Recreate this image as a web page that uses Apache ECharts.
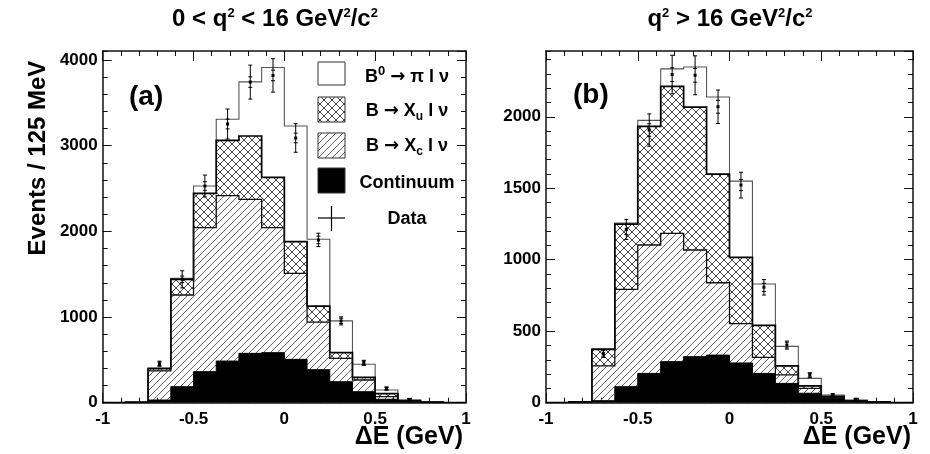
<!DOCTYPE html>
<html><head><meta charset="utf-8">
<script src="https://cdn.jsdelivr.net/npm/echarts@6/dist/echarts.min.js"></script>
<style>html,body{margin:0;padding:0;background:#fff}#c{width:930px;height:454px}</style>
</head><body><div id="c"></div>
<script>
// ---- data ----
const edges = [-1,-0.875,-0.75,-0.625,-0.5,-0.375,-0.25,-0.125,0,0.125,0.25,0.375,0.5,0.625,0.75,0.875,1];
const xTickLabels = [-1,-0.5,0,0.5,1];
const yTickLabelsA = [0,1000,2000,3000,4000];
const yTickLabelsB = [0,500,1000,1500,2000];

// panel (a): 0 < q2 < 16
const contA = [0,5,31,187,362,486,576,584,506,385,245,128,40,12,3,0];
const xcA   = [0,0,341,1070,1681,1930,1798,1459,1004,555,273,137,32,6,2,0];
const xuA   = [0,0,26,183,401,646,739,587,369,188,66,31,33,6,1,0];
const piA   = [0,1,7,11,85,246,632,1283,1351,779,371,152,43,8,2,0];
const dataA = [null,null,455,1440,2529,3253,3742,3820,3090,1900,955,465,165,38,null,null];
const errTotA  = [0,0,30,100,128,175,198,195,167,78,47,30,20,12,0,0];
const errStatA = [0,0,21,38,50,57,61,62,56,44,31,22,13,6,0,0];

// panel (b): q2 > 16
const contB = [0,5,14,112,205,287,322,333,278,205,135,66,31,10,4,0];
const xcB   = [0,0,243,681,898,897,746,506,275,112,59,34,7,2,1,0];
const xuB   = [0,1,115,456,830,1028,1000,760,463,224,63,17,7,2,1,0];
const piB   = [0,1,6,8,42,123,280,539,534,289,137,53,9,2,1,0];
const dataB = [null,null,345,1212,1907,2295,2290,2070,1522,807,403,193,54,24,null,null];
const errTotB  = [0,0,28,70,113,135,136,117,90,54,28,16,10,6,0,0];
const errStatB = [0,0,19,35,44,48,48,45,39,28,20,14,7,5,0,0];

// ---- styles ----
const FONT = '"Liberation Sans", Arial, Helvetica, sans-serif';
function hatchCanvas(size, both, color, lw) {
  const c = document.createElement('canvas'); c.width = size; c.height = size;
  const g = c.getContext('2d'); g.strokeStyle = color; g.lineWidth = lw;
  g.beginPath();
  for (const o of [-size, 0, size]) {
    g.moveTo(o, size); g.lineTo(o + size, 0);
    if (both) { g.moveTo(o, 0); g.lineTo(o + size, size); }
  }
  g.stroke();
  return c;
}
const hatchFill = {image: hatchCanvas(7, false, '#666', 1), repeat: 'repeat'};
const crossFill = {image: hatchCanvas(8, true, '#444', 1), repeat: 'repeat'};
const fills = ['#000', hatchFill, crossFill, '#fff'];
const strokes = [{c:'#000', w:1}, {c:'#111', w:1.3}, {c:'#000', w:1.7}, {c:'#555', w:1.1}];

function stackTops(layers) {
  const out = []; let run = layers[0].map(() => 0);
  for (const l of layers) { run = run.map((v, i) => v + l[i]); out.push(run); }
  return out;
}
function stackSeries(xi, yi, layers) {
  const tops = stackTops(layers);
  return {
    type: 'custom', xAxisIndex: xi, yAxisIndex: yi, z: 2, silent: true, clip: true,
    data: [[0, 0]],
    renderItem(params, api) {
      const ch = [];
      for (let k = 0; k < tops.length; k++) {
        const U = tops[k], L = k ? tops[k - 1] : U.map(() => 0);
        const pts = [];
        for (let i = 0; i < U.length; i++) { pts.push(api.coord([edges[i], U[i]])); pts.push(api.coord([edges[i + 1], U[i]])); }
        for (let i = U.length - 1; i >= 0; i--) { pts.push(api.coord([edges[i + 1], L[i]])); pts.push(api.coord([edges[i], L[i]])); }
        ch.push({type: 'polygon', shape: {points: pts}, style: {fill: fills[k], stroke: null}});
      }
      for (let k = tops.length - 1; k >= 0; k--) {
        const U = tops[k];
        const pts = [api.coord([edges[0], 0])];
        for (let i = 0; i < U.length; i++) { pts.push(api.coord([edges[i], U[i]])); pts.push(api.coord([edges[i + 1], U[i]])); }
        pts.push(api.coord([edges[edges.length - 1], 0]));
        ch.push({type: 'polyline', shape: {points: pts}, style: {stroke: strokes[k].c, lineWidth: strokes[k].w, fill: 'none'}});
      }
      return {type: 'group', children: ch};
    }
  };
}
function dataSeries(xi, yi, vals, eTot, eStat) {
  const data = [];
  vals.forEach((v, i) => { if (v != null) data.push([(edges[i] + edges[i + 1]) / 2, v, eTot[i], eStat[i]]); });
  return {
    type: 'custom', xAxisIndex: xi, yAxisIndex: yi, z: 5, silent: true, clip: true, data,
    renderItem(params, api) {
      const x = api.value(0), y = api.value(1), eo = api.value(2), ei = api.value(3);
      const c = api.coord([x, y]);
      const t = api.coord([x, y + eo])[1], b = api.coord([x, Math.max(0, y - eo)])[1];
      const ti = api.coord([x, y + ei])[1], bi = api.coord([x, Math.max(0, y - ei)])[1];
      const st = {stroke: '#000', lineWidth: 1};
      const h = 2;
      const ch = [
        {type: 'line', shape: {x1: c[0], y1: t, x2: c[0], y2: b}, style: st},
        {type: 'line', shape: {x1: c[0] - h, y1: t, x2: c[0] + h, y2: t}, style: st},
        {type: 'line', shape: {x1: c[0] - h, y1: b, x2: c[0] + h, y2: b}, style: st},
        {type: 'line', shape: {x1: c[0] - h, y1: ti, x2: c[0] + h, y2: ti}, style: st},
        {type: 'line', shape: {x1: c[0] - h, y1: bi, x2: c[0] + h, y2: bi}, style: st},
        {type: 'rect', shape: {x: c[0] - 1.5, y: c[1] - 1.5, width: 3, height: 3}, style: {fill: '#000'}}
      ];
      return {type: 'group', children: ch};
    }
  };
}

const labelStyle = {color: '#000', fontSize: 17, fontWeight: 'bold', fontFamily: FONT};
const frameLine = {show: true, onZero: false, lineStyle: {color: '#111', width: 1.5}};
const noLine = {show: false, onZero: false};
function xAxes(gi) {
  const common = {type: 'value', gridIndex: gi, min: -1, max: 1, interval: 0.5, splitLine: {show: false},
    axisLine: frameLine,
    axisTick: {show: true, inside: true, length: 10, lineStyle: {color: '#111', width: 1}},
    minorTick: {show: true, splitNumber: 5, length: 5, lineStyle: {color: '#111', width: 1}}};
  return [
    Object.assign({}, common, {position: 'bottom', axisLabel: Object.assign({margin: 8,
      formatter: v => xTickLabels.includes(v) ? String(v) : ''}, labelStyle)}),
    Object.assign({}, common, {position: 'top', axisLabel: {show: false}})
  ];
}
function yAxes(gi, max, major, minor, ticks) {
  const base = {type: 'value', gridIndex: gi, min: 0, max, splitLine: {show: false}, minorTick: {show: false}};
  return [
    Object.assign({}, base, {position: 'left', interval: major, axisLine: frameLine,
      axisTick: {show: true, inside: true, length: 9, lineStyle: {color: '#111'}},
      axisLabel: Object.assign({margin: 5, showMaxLabel: false,
        formatter: v => ticks.includes(v) ? String(v) : ''}, labelStyle)}),
    Object.assign({}, base, {position: 'left', interval: minor, axisLine: noLine,
      axisTick: {show: true, inside: true, length: 5, lineStyle: {color: '#111'}}, axisLabel: {show: false}}),
    Object.assign({}, base, {position: 'right', interval: major, axisLine: frameLine,
      axisTick: {show: true, inside: true, length: 9, lineStyle: {color: '#111'}}, axisLabel: {show: false}}),
    Object.assign({}, base, {position: 'right', interval: minor, axisLine: noLine,
      axisTick: {show: true, inside: true, length: 5, lineStyle: {color: '#111'}}, axisLabel: {show: false}})
  ];
}

const richSub = {
  sup: {fontSize: 13, fontWeight: 'bold', fontFamily: FONT, verticalAlign: 'top', lineHeight: 24},
  sub: {fontSize: 12, fontWeight: 'bold', fontFamily: FONT, verticalAlign: 'bottom', lineHeight: 22},
  arr: {fontSize: 18, fontWeight: 'bold', fontFamily: '"DejaVu Sans", sans-serif', lineHeight: 22}
};
function txt(x, y, text, size, align, extra) {
  return Object.assign({type: 'text', x, y, z: 20, silent: true, style: {
    text, fontSize: size, fontWeight: 'bold', fontFamily: FONT, fill: '#000',
    align: align || 'center', verticalAlign: 'middle', lineHeight: 24, rich: richSub}}, extra || {});
}
const legendX = 318, legendW = 27, legendTextX = 407;
const legendRows = [
  {y: 62, h: 23, fill: '#fff', text: 'B{sup|0} {arr|→} π l ν', ty: 77},
  {y: 97, h: 25, fill: crossFill, text: 'B {arr|→} X{sub|u} l ν', ty: 111},
  {y: 133, h: 25, fill: hatchFill, text: 'B {arr|→} X{sub|c} l ν', ty: 146},
  {y: 168, h: 25, fill: '#000', text: 'Continuum', ty: 183}
];
const graphics = [];
legendRows.forEach(r => {
  graphics.push({type: 'rect', z: 20, silent: true, shape: {x: legendX, y: r.y, width: legendW, height: r.h},
    style: {fill: r.fill, stroke: '#333', lineWidth: 1}});
  graphics.push(txt(legendTextX, r.ty, r.text, 18));
});
graphics.push({type: 'line', z: 20, silent: true, shape: {x1: legendX, y1: 218, x2: legendX + legendW, y2: 218}, style: {stroke: '#000', lineWidth: 1.2}});
graphics.push({type: 'line', z: 20, silent: true, shape: {x1: legendX + legendW / 2, y1: 206, x2: legendX + legendW / 2, y2: 231}, style: {stroke: '#000', lineWidth: 1.2}});
graphics.push(txt(legendTextX, 219, 'Data', 18));
graphics.push(txt(275, 19, '0 < q{sup|2} < 16 GeV{sup|2}/c{sup|2}', 24));
graphics.push(txt(730, 19, 'q{sup|2} > 16 GeV{sup|2}/c{sup|2}', 24));
graphics.push(txt(129, 97, '(a)', 28, 'left'));
graphics.push(txt(573, 95, '(b)', 28, 'left'));
graphics.push(txt(463, 437, 'ΔE (GeV)', 25, 'right'));
graphics.push(txt(911, 437, 'ΔE (GeV)', 25, 'right'));
graphics.push(txt(0, 0, 'Events / 125 MeV', 24, 'center', {x: 38, y: 158, rotation: Math.PI / 2}));

const chart = echarts.init(document.getElementById('c'), null, {renderer: 'canvas'});
chart.setOption({
  animation: false,
  backgroundColor: '#fff',
  grid: [
    {left: 102.7, top: 51, width: 363.3, height: 351.7},
    {left: 546, top: 51, width: 367, height: 351.7}
  ],
  xAxis: [...xAxes(0), ...xAxes(1)],
  yAxis: [...yAxes(0, 4105, 1000, 200, yTickLabelsA), ...yAxes(1, 2460, 500, 100, yTickLabelsB)],
  series: [
    stackSeries(0, 0, [contA, xcA, xuA, piA]),
    dataSeries(0, 0, dataA, errTotA, errStatA),
    stackSeries(2, 4, [contB, xcB, xuB, piB]),
    dataSeries(2, 4, dataB, errTotB, errStatB)
  ],
  graphic: graphics
});
</script></body></html>
